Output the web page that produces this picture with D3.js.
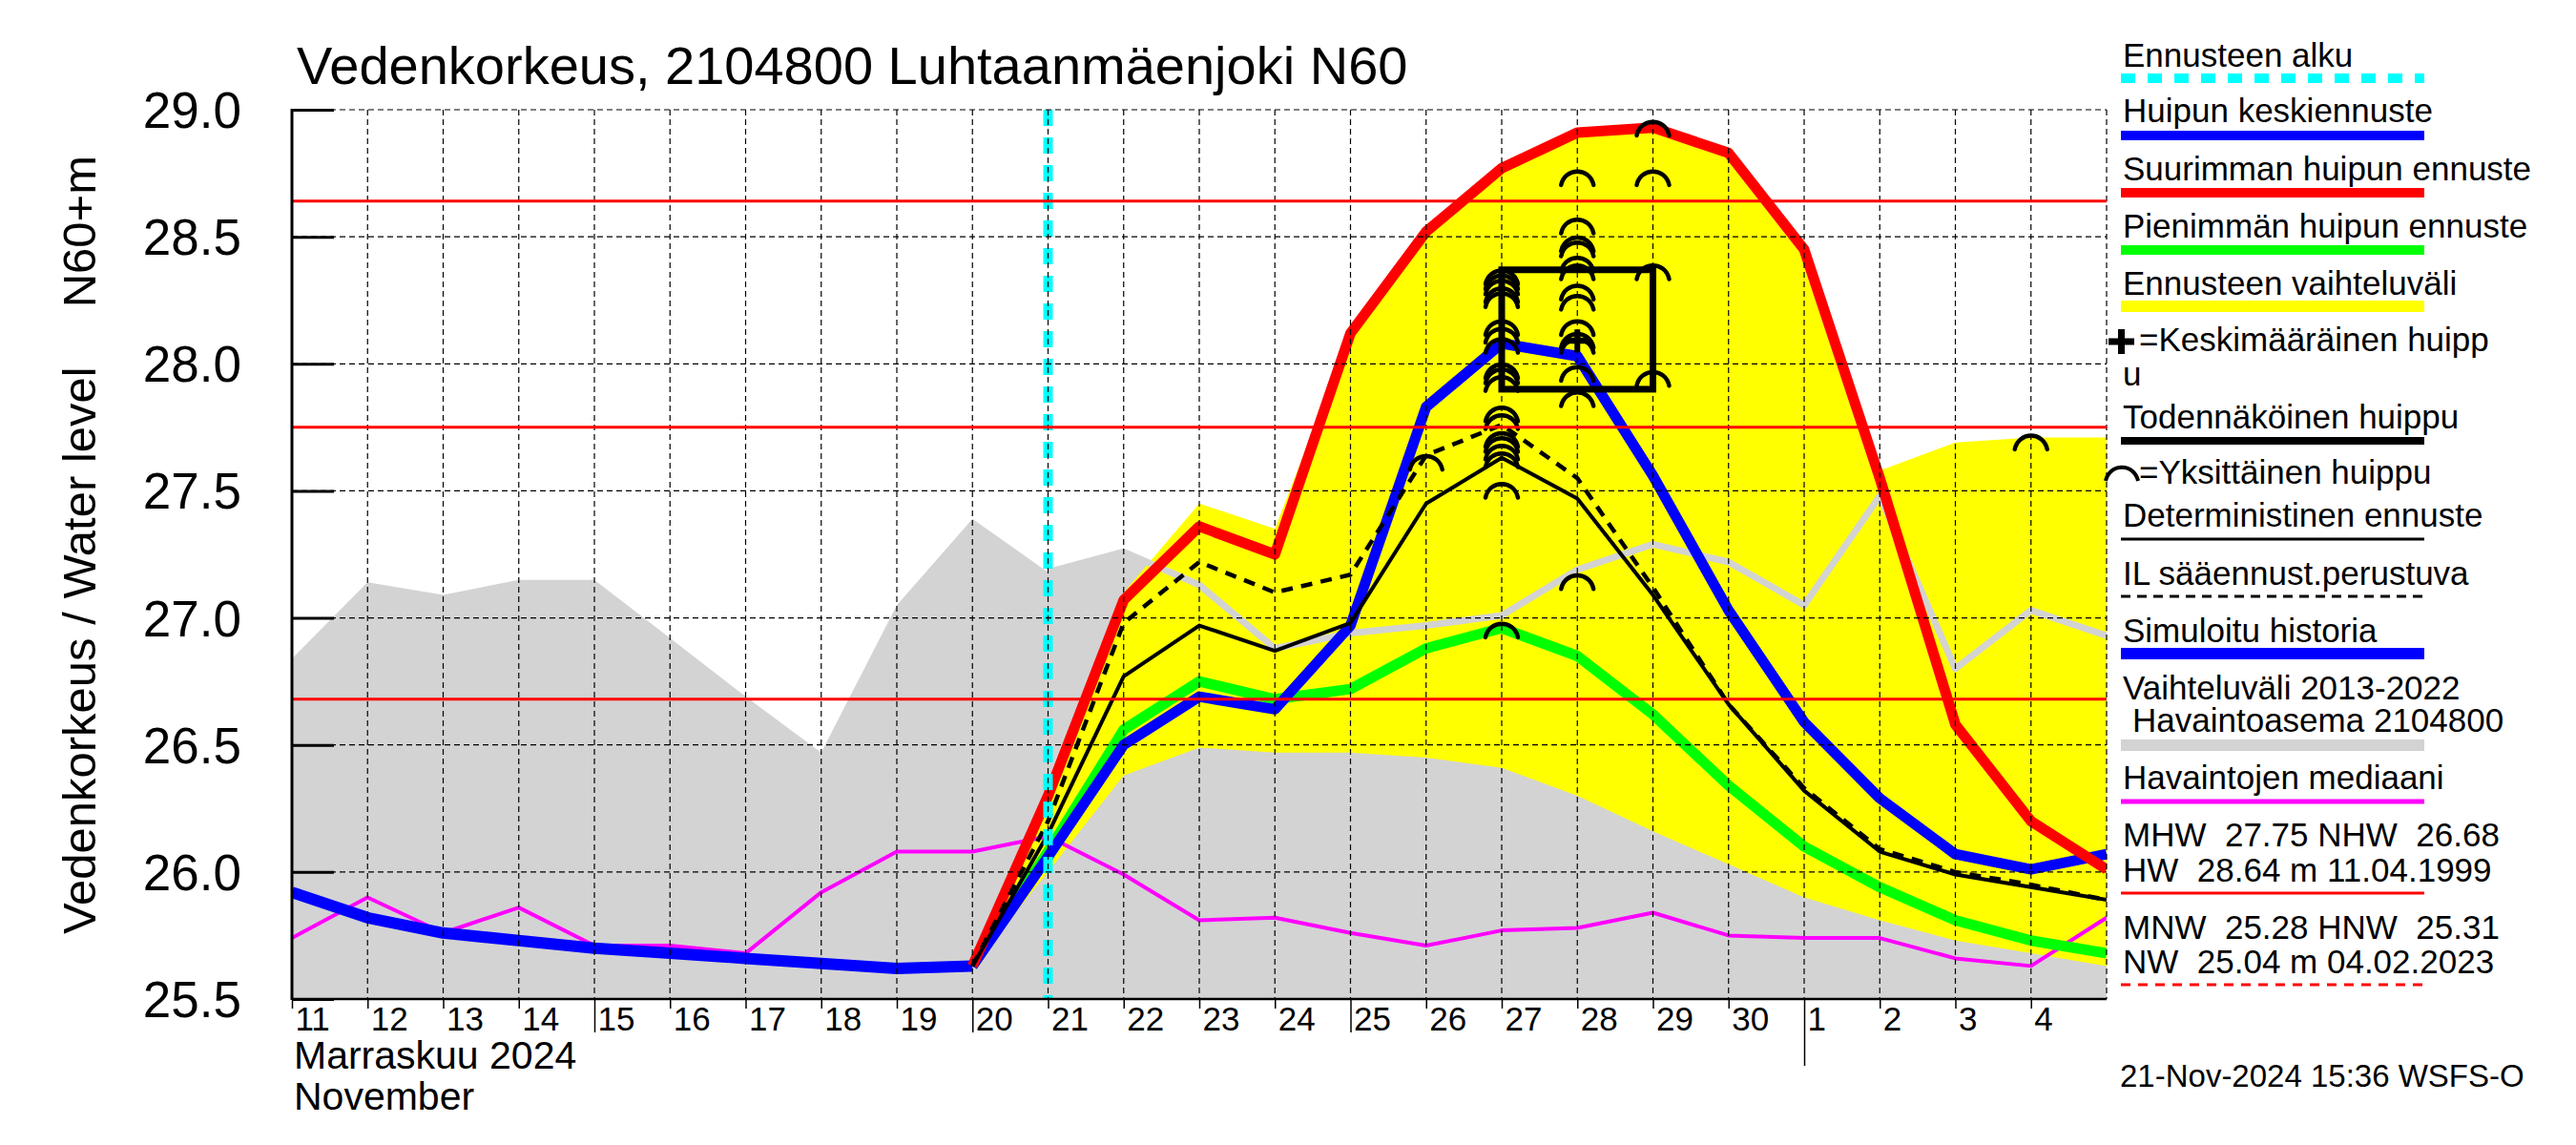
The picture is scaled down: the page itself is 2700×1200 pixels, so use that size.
<!DOCTYPE html>
<html>
<head>
<meta charset="utf-8">
<script src="https://cdn.jsdelivr.net/npm/d3@7"></script>
<style>
  body { margin: 0; background: #fff; }
  text { font-family: "Liberation Sans", Arial, sans-serif; }
</style>
</head>
<body>
<script>
// days of the chart, one value per day at 00:00
const allDays = ["2024-11-11","2024-11-12","2024-11-13","2024-11-14","2024-11-15","2024-11-16","2024-11-17",
  "2024-11-18","2024-11-19","2024-11-20","2024-11-21","2024-11-22","2024-11-23","2024-11-24","2024-11-25",
  "2024-11-26","2024-11-27","2024-11-28","2024-11-29","2024-11-30","2024-12-01","2024-12-02","2024-12-03",
  "2024-12-04","2024-12-05"];
const historyDays = allDays.slice(0, 10);
const forecastDays = allDays.slice(9);

// range 2013-2022, upper edge
const rangeUpper = [26.84, 27.14, 27.09, 27.15, 27.15, 26.92, 26.69, 26.47, 27.05, 27.39, 27.18, 27.26, 27.13,
  26.88, 26.94, 26.97, 27.01, 27.19, 27.29, 27.22, 27.05, 27.48, 26.80, 27.03, 26.93];
const median = [25.74, 25.90, 25.76, 25.86, 25.71, 25.71, 25.68, 25.92, 26.08, 26.08, 26.14, 25.99, 25.81,
  25.82, 25.76, 25.71, 25.77, 25.78, 25.84, 25.75, 25.74, 25.74, 25.66, 25.63, 25.82];
const simulated = [25.92, 25.82, 25.76, 25.73, 25.70, 25.68, 25.66, 25.64, 25.62, 25.63];

// forecast, 20.11 -> 5.12
const bandUpper = [25.63, 26.30, 27.10, 27.45, 27.35, 28.12, 28.52, 28.77, 28.91, 28.93, 28.83, 28.45, 27.58, 27.69, 27.71, 27.71];
const bandLower = [25.63, 26.00, 26.38, 26.49, 26.47, 26.47, 26.45, 26.41, 26.30, 26.16, 26.03, 25.90, 25.81, 25.73, 25.68, 25.63];
const meanPeak = [25.63, 26.06, 26.50, 26.69, 26.64, 26.97, 27.83, 28.08, 28.03, 27.56, 27.03, 26.59, 26.29, 26.07, 26.01, 26.07];
const maxPeak = [25.63, 26.30, 27.07, 27.36, 27.25, 28.12, 28.52, 28.77, 28.91, 28.93, 28.83, 28.45, 27.55, 26.58, 26.20, 26.01];
const minPeak = [25.63, 26.08, 26.56, 26.75, 26.68, 26.72, 26.88, 26.96, 26.85, 26.62, 26.34, 26.10, 25.94, 25.81, 25.73, 25.68];
const deterministic = [25.63, 26.15, 26.77, 26.97, 26.87, 26.98, 27.45, 27.63, 27.47, 27.09, 26.66, 26.32, 26.08, 25.99, 25.94, 25.89];
const ilForecast = [25.63, 26.20, 26.98, 27.22, 27.10, 27.17, 27.64, 27.76, 27.55, 27.12, 26.66, 26.33, 26.09, 26.00, 25.95, 25.89];

// single peaks [day, level]
const singlePeaks = [
  ["2024-11-26", 27.64],
  ["2024-11-27", 28.37], ["2024-11-27", 28.35], ["2024-11-27", 28.33], ["2024-11-27", 28.30], ["2024-11-27", 28.28],
  ["2024-11-27", 28.17], ["2024-11-27", 28.14], ["2024-11-27", 28.10], ["2024-11-27", 28.00], ["2024-11-27", 27.98],
  ["2024-11-27", 27.95], ["2024-11-27", 27.83], ["2024-11-27", 27.80], ["2024-11-27", 27.73], ["2024-11-27", 27.71],
  ["2024-11-27", 27.68], ["2024-11-27", 27.65], ["2024-11-27", 27.53], ["2024-11-27", 26.98],
  ["2024-11-28", 28.76], ["2024-11-28", 28.57], ["2024-11-28", 28.50], ["2024-11-28", 28.48], ["2024-11-28", 28.42],
  ["2024-11-28", 28.39], ["2024-11-28", 28.31], ["2024-11-28", 28.27], ["2024-11-28", 28.17], ["2024-11-28", 28.12],
  ["2024-11-28", 28.10], ["2024-11-28", 27.99], ["2024-11-28", 27.89], ["2024-11-28", 27.17],
  ["2024-11-29", 28.955], ["2024-11-29", 28.76], ["2024-11-29", 28.39], ["2024-11-29", 27.97],
  ["2024-12-04", 27.72]
];
const probablePeak = { from: "2024-11-27", to: "2024-11-29", low: 27.90, high: 28.37 };
const averagePeak = ["2024-11-28", 28.09];
const forecastStart = "2024-11-21";

const refLevels = [28.64, 27.75, 26.68];
const yTicks = [25.5, 26.0, 26.5, 27.0, 27.5, 28.0, 28.5, 29.0];

const legendItems = [
  "Ennusteen alku", "Huipun keskiennuste", "Suurimman huipun ennuste", "Pienimmän huipun ennuste",
  "Ennusteen vaihteluväli", "=Keskimääräinen huipp", "Todennäköinen huippu", "=Yksittäinen huippu",
  "Deterministinen ennuste", "IL sääennust.perustuva", "Simuloitu historia", "Vaihteluväli 2013-2022",
  "Havaintojen mediaani", "MHW  27.75 NHW  26.68", "MNW  25.28 HNW  25.31"
];

const width = 2700;
const height = 1200;
const plot = { left: 306, right: 2208, top: 115, bottom: 1047 };

const parse = d3.timeParse("%Y-%m-%d");

const svg = d3.select('body')
  .append('svg')
  .attr('width', width)
  .attr('height', height)
  .style('background', '#fff');

const x = d3.scaleTime()
  .domain([parse("2024-11-11"), parse("2024-12-05")])
  .range([plot.left, plot.right]);

const y = d3.scaleLinear()
  .domain([25.5, 29.0])
  .range([plot.bottom, plot.top]);

svg.append('clipPath').attr('id', 'clip')
  .append('rect')
  .attr('x', plot.left).attr('y', plot.top)
  .attr('width', plot.right - plot.left).attr('height', plot.bottom - plot.top);

const chart = svg.append('g').attr('clip-path', 'url(#clip)');

// gray range band
chart.append('path')
  .datum(allDays.map((d, i) => [parse(d), rangeUpper[i]]))
  .attr('fill', '#d3d3d3')
  .attr('d', d3.area().x(d => x(d[0])).y0(plot.bottom).y1(d => y(d[1])));

// yellow forecast band
chart.append('path')
  .datum(forecastDays.map((d, i) => [parse(d), bandLower[i], bandUpper[i]]))
  .attr('fill', '#ffff00')
  .attr('d', d3.area().x(d => x(d[0])).y0(d => y(d[1])).y1(d => y(d[2])));

// grid
const grid = svg.append('g')
  .attr('stroke', '#000')
  .attr('stroke-width', 1.2)
  .attr('stroke-dasharray', '6,4');

grid.selectAll('.vgrid')
  .data(d3.timeDay.range(parse("2024-11-12"), d3.timeDay.offset(parse("2024-12-05"), 1)))
  .join('line')
  .attr('x1', d => x(d)).attr('x2', d => x(d))
  .attr('y1', plot.top).attr('y2', plot.bottom);

grid.selectAll('.hgrid')
  .data(yTicks.filter(v => v > 25.5))
  .join('line')
  .attr('x1', plot.left).attr('x2', plot.right)
  .attr('y1', d => y(d)).attr('y2', d => y(d));

// reference levels
svg.append('g').selectAll('line')
  .data(refLevels)
  .join('line')
  .attr('x1', plot.left).attr('x2', plot.right)
  .attr('y1', d => y(d)).attr('y2', d => y(d))
  .attr('stroke', '#ff0000')
  .attr('stroke-width', 3);

const line = d3.line().x(d => x(d[0])).y(d => y(d[1]));

function series(days, values, color, w, dash) {
  chart.append('path')
    .datum(days.map((d, i) => [parse(d), values[i]]))
    .attr('fill', 'none')
    .attr('stroke', color)
    .attr('stroke-width', w)
    .attr('stroke-linejoin', 'round')
    .attr('stroke-dasharray', dash || null)
    .attr('d', line);
}

series(allDays.slice(10), rangeUpper.slice(10), '#d3d3d3', 7);
series(allDays, median, '#ff00ff', 4);
series(forecastDays, minPeak, '#00ff00', 11);
series(historyDays, simulated, '#0000ff', 12);
series(forecastDays, meanPeak, '#0000ff', 11);
series(forecastDays, maxPeak, '#ff0000', 11);
series(forecastDays, ilForecast, '#000', 4.5, '12,9');
series(forecastDays, deterministic, '#000', 4);

// single peaks
const arc = (cx, cy) => `M${cx - 17},${cy + 15} C${cx - 13},${cy - 4} ${cx + 13},${cy - 4} ${cx + 17},${cy + 15}`;

chart.append('g').selectAll('path')
  .data(singlePeaks)
  .join('path')
  .attr('fill', 'none')
  .attr('stroke', '#000')
  .attr('stroke-width', 4.5)
  .attr('stroke-linecap', 'round')
  .attr('d', d => arc(x(parse(d[0])), y(d[1])));

// probable peak box
chart.append('rect')
  .attr('x', x(parse(probablePeak.from)))
  .attr('y', y(probablePeak.high))
  .attr('width', x(parse(probablePeak.to)) - x(parse(probablePeak.from)))
  .attr('height', y(probablePeak.low) - y(probablePeak.high))
  .attr('fill', 'none')
  .attr('stroke', '#000')
  .attr('stroke-width', 7);

// average peak
const ax = x(parse(averagePeak[0]));
const ay = y(averagePeak[1]);
chart.append('path')
  .attr('d', `M${ax - 10},${ay} H${ax + 10} M${ax},${ay - 12} V${ay + 12}`)
  .attr('stroke', '#000')
  .attr('stroke-width', 6);

// forecast start
chart.append('line')
  .attr('x1', x(parse(forecastStart))).attr('x2', x(parse(forecastStart)))
  .attr('y1', plot.top).attr('y2', plot.bottom)
  .attr('stroke', '#00ffff')
  .attr('stroke-width', 10)
  .attr('stroke-dasharray', '17,12');

// y-axis
const yAxis = svg.append('g')
  .attr('transform', `translate(${plot.left},0)`)
  .call(d3.axisLeft(y)
    .tickValues(yTicks)
    .tickFormat(d3.format('.1f'))
    .tickSize(-44)
    .tickPadding(53))
  .style('font-size', '53px');
yAxis.select('.domain').remove();
yAxis.selectAll('.tick line').attr('stroke', '#000').attr('stroke-width', 3);
yAxis.selectAll('.tick text').attr('fill', '#000').attr('dy', '0.35em');

svg.append('line')
  .attr('x1', plot.left).attr('x2', plot.left)
  .attr('y1', plot.top - 1).attr('y2', plot.bottom + 1)
  .attr('stroke', '#000').attr('stroke-width', 3);
svg.append('line')
  .attr('x1', plot.left).attr('x2', plot.right)
  .attr('y1', plot.bottom).attr('y2', plot.bottom)
  .attr('stroke', '#000').attr('stroke-width', 2.5);

// x-axis
const xAxis = svg.append('g')
  .attr('transform', `translate(0,${plot.bottom})`)
  .call(d3.axisBottom(x)
    .tickValues(d3.timeDay.range(parse("2024-11-11"), parse("2024-12-05")))
    .tickFormat(d3.timeFormat('%-d'))
    .tickSize(10)
    .tickPadding(4))
  .style('font-size', '35px');
xAxis.select('.domain').remove();
xAxis.selectAll('.tick line')
  .attr('stroke', '#000')
  .attr('stroke-width', 1.5)
  .attr('y2', d => d.getDate() === 1 ? 70 : [15, 20, 25].includes(d.getDate()) ? 35 : 10);
xAxis.selectAll('.tick text')
  .attr('fill', '#000')
  .attr('text-anchor', 'start')
  .attr('x', 3)
  .attr('y', 8)
  .attr('dy', '0.71em');

svg.append('text').attr('x', 308).attr('y', 1120).style('font-size', '41px').text('Marraskuu 2024');
svg.append('text').attr('x', 308).attr('y', 1163).style('font-size', '41px').text('November');

// titles
svg.append('text').attr('x', 311).attr('y', 88).style('font-size', '56px')
  .text('Vedenkorkeus, 2104800 Luhtaanmäenjoki N60');

svg.append('text')
  .attr('transform', 'translate(100,979) rotate(-90)')
  .style('font-size', '49px')
  .text('Vedenkorkeus / Water level');
svg.append('text')
  .attr('transform', 'translate(100,163) rotate(-90)')
  .attr('text-anchor', 'end')
  .style('font-size', '49px')
  .text('N60+m');

svg.append('text').attr('x', 2222).attr('y', 1139).style('font-size', '33px')
  .text('21-Nov-2024 15:36 WSFS-O');

// legend
const lg = svg.append('g').style('font-size', '35px');
const lx = 2225;
const sample = (yy, color, w, dash) => lg.append('line')
  .attr('x1', 2223).attr('x2', 2541).attr('y1', yy).attr('y2', yy)
  .attr('stroke', color).attr('stroke-width', w)
  .attr('stroke-dasharray', dash || null);
const label = (xx, yy, t) => lg.append('text').attr('x', xx).attr('y', yy)
  .style('white-space', 'pre').text(t);

label(lx, 70, legendItems[0]);  sample(82, '#00ffff', 10, '15,13');
label(lx, 128, legendItems[1]); sample(142, '#0000ff', 10);
label(lx, 189, legendItems[2]); sample(202, '#ff0000', 10);
label(lx, 249, legendItems[3]); sample(262, '#00ff00', 10);
label(lx, 309, legendItems[4]); sample(321, '#ffff00', 12);
lg.append('path').attr('d', 'M2210,358 H2237 M2223.5,345 V371').attr('stroke', '#000').attr('stroke-width', 7);
label(2242, 368, legendItems[5]);
label(lx, 404, 'u');
label(lx, 449, legendItems[6]); sample(462, '#000', 8);
lg.append('path').attr('d', arc(2224, 489)).attr('fill', 'none').attr('stroke', '#000').attr('stroke-width', 4);
label(2242, 507, legendItems[7]);
label(lx, 552, legendItems[8]); sample(565, '#000', 3);
label(lx, 613, legendItems[9]); sample(625, '#000', 3, '10,7');
label(lx, 673, legendItems[10]); sample(685, '#0000ff', 12);
label(lx, 733, legendItems[11]);
label(lx + 10, 767, 'Havaintoasema 2104800'); sample(781, '#d3d3d3', 12);
label(lx, 827, legendItems[12]); sample(840, '#ff00ff', 5);
label(lx, 887, legendItems[13]);
label(lx, 924, 'HW  28.64 m 11.04.1999'); sample(936, '#ff0000', 3);
label(lx, 984, legendItems[14]);
label(lx, 1020, 'NW  25.04 m 04.02.2023'); sample(1032, '#ff0000', 3, '10,8');
</script>
</body>
</html>
